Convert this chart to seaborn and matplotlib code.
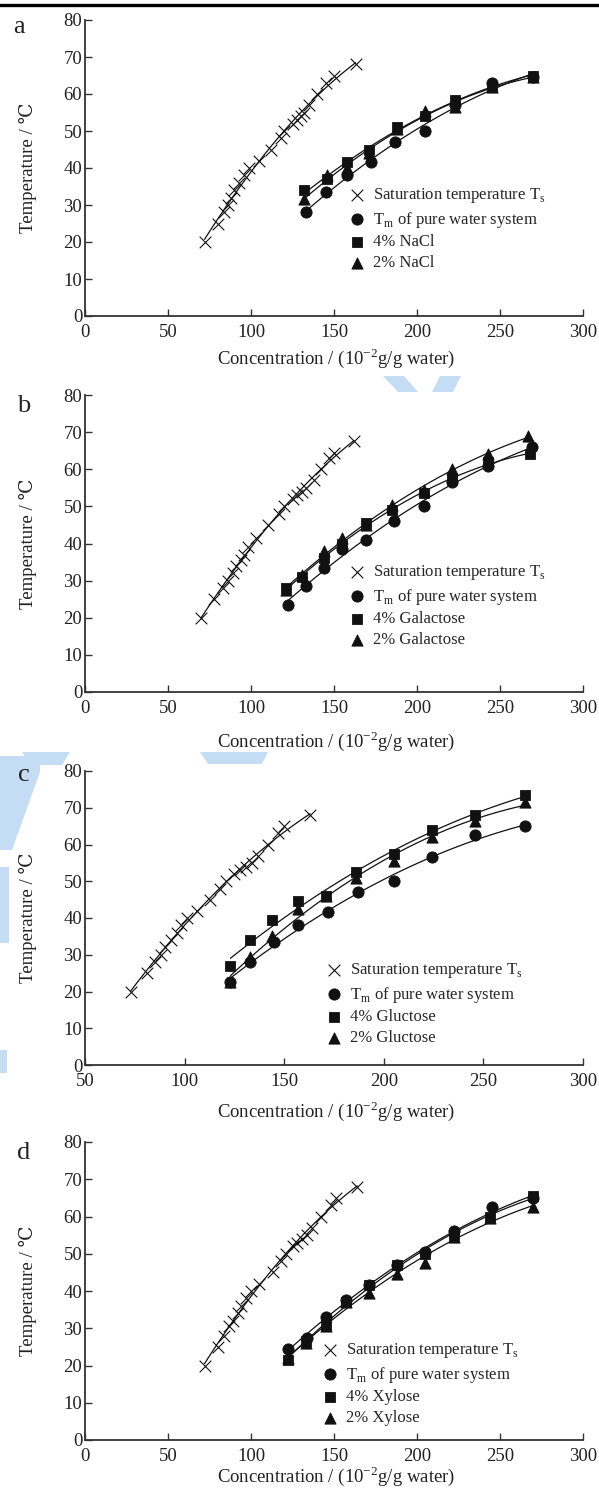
import numpy as np
import pandas as pd
import matplotlib
matplotlib.use('Agg')
import matplotlib.pyplot as plt
import seaborn as sns
from matplotlib.lines import Line2D
from matplotlib.patches import Polygon

# -- Data ----------------------------------------------------------------------
# saturation temperature curves (x markers)
a_sat_x = [72, 80, 84, 86, 88, 90, 93, 96, 99, 105, 112, 118, 120, 125, 128, 130, 132, 135, 140, 145, 150, 163]
a_sat_y = [20, 25, 28, 30, 32, 34, 36, 38, 40, 42, 45, 48, 50, 52, 53, 54, 55, 57, 60, 63, 65, 68]
b_sat_x = [70, 78, 83, 86, 89, 91, 94, 96, 98, 103, 110, 117, 120, 125, 128, 131, 133, 138, 142, 147, 150, 162]
b_sat_y = [20, 25, 28, 30, 32, 34, 35.5, 37, 39, 41.5, 45, 48, 50, 52, 53, 54, 55, 57, 60, 63, 64.5, 67.5]
c_sat_x = [73, 81, 85, 88, 90, 93, 96, 98, 101, 106, 113, 118, 121, 125, 128, 131, 134, 137, 142, 147, 150, 163]
c_sat_y = [20, 25, 28, 30, 32, 34, 36, 38, 40, 42, 45, 48, 50, 52, 53, 54, 55, 57, 60, 63, 65, 68]
d_sat_x = [72, 80, 84, 87, 89, 92, 94, 97, 100, 105, 113, 118, 121, 125, 128, 131, 134, 137, 142, 148, 151, 164]
d_sat_y = [20, 25, 28, 30.5, 32, 34, 36, 38, 40, 42, 45, 48, 50, 52, 53, 54, 55, 57, 60, 63, 65, 68]

# panel a: NaCl
a_pure_x = [133, 145, 158, 172, 187, 205, 223, 245, 270]
a_pure_y = [28, 33.5, 38, 41.5, 47, 50, 57, 63, 64.5]
a_hi_x = [132, 146, 158, 171, 188, 205, 223, 245, 270]
a_hi_y = [34, 37, 41.5, 45, 51, 54, 58.5, 62, 65]
a_lo_x = [132, 146, 158, 171, 188, 205, 223, 245, 270]
a_lo_y = [31.5, 38, 40, 44, 50.5, 55.5, 56.5, 62, 64.5]

# panel b: Galactose
b_pure_x = [122, 133, 144, 155, 169, 186, 204, 221, 243, 269]
b_pure_y = [23.5, 28.5, 33.5, 38.5, 41, 46, 50, 56.5, 61, 66]
b_hi_x = [121, 131, 144, 155, 169, 185, 204, 221, 243, 268]
b_hi_y = [28, 31, 36, 40, 45.5, 49, 53.5, 57.5, 62, 64]
b_lo_x = [121, 131, 144, 155, 169, 185, 204, 221, 243, 267]
b_lo_y = [27.5, 31.5, 38, 41.5, 45, 50.5, 54.5, 60, 64, 69]

# panel c: Glucose
c_pure_x = [123, 133, 145, 157, 172, 187, 205, 224, 246, 271]
c_pure_y = [22.5, 28, 33.5, 38, 41.5, 47, 50, 56.5, 62.5, 65]
c_hi_x = [123, 133, 144, 157, 171, 186, 205, 224, 246, 271]
c_hi_y = [27, 34, 39.5, 44.5, 46, 52.5, 57.5, 64, 68, 73.5]
c_lo_x = [123, 133, 144, 157, 171, 186, 205, 224, 246, 271]
c_lo_y = [22.5, 29.5, 35, 42.5, 46, 51, 55.5, 62, 66.5, 71.5]

# panel d: Xylose
d_pure_x = [122, 134, 145, 157, 171, 188, 205, 222, 245, 270]
d_pure_y = [24.5, 27.5, 33, 37.5, 41.5, 47, 50.5, 56, 62.5, 65]
d_hi_x = [122, 133, 145, 157, 171, 188, 205, 222, 244, 270]
d_hi_y = [21.5, 26.5, 31, 37, 41.5, 47, 50, 55, 60, 65.5]
d_lo_x = [122, 133, 145, 157, 171, 188, 205, 222, 244, 270]
d_lo_y = [22, 26, 30.5, 37, 39.5, 44.5, 47.5, 54.5, 59.5, 62.5]

letters = ['a', 'b', 'c', 'd']
solutes = ['NaCl', 'Galactose', 'Gluctose', 'Xylose']
x_ranges = [(0, 300), (0, 300), (50, 300), (0, 300)]
y_ticks = [0, 10, 20, 30, 40, 50, 60, 70, 80]

SERIF = ['Liberation Serif', 'DejaVu Serif']
INK = '#111111'

sns.set_style('ticks')
plt.rcParams['font.family'] = SERIF
plt.rcParams['mathtext.fontset'] = 'custom'
plt.rcParams['mathtext.rm'] = 'Liberation Serif'

fig = plt.figure(figsize=(5.99, 14.92), dpi=100)
W, H = 599.0, 1492.0

# layout in pixels: axes (top of y=80, bottom of y=0), legend corner, letter, xlabel centre
panel_px = [(20, 316), (395, 692), (771, 1065), (1142, 1440)]
legend_px = [(350, 186), (350, 563), (327, 961), (323, 1341)]
letter_px = [(19, 27), (24, 406), (24, 775), (24, 1153)]
xlabel_y = [358, 741, 1111, 1476]

panels = [
    (a_sat_x, a_sat_y, a_pure_x, a_pure_y, a_hi_x, a_hi_y, a_lo_x, a_lo_y),
    (b_sat_x, b_sat_y, b_pure_x, b_pure_y, b_hi_x, b_hi_y, b_lo_x, b_lo_y),
    (c_sat_x, c_sat_y, c_pure_x, c_pure_y, c_hi_x, c_hi_y, c_lo_x, c_lo_y),
    (d_sat_x, d_sat_y, d_pure_x, d_pure_y, d_hi_x, d_hi_y, d_lo_x, d_lo_y),
]

# light blue watermark fragments (drawn first, behind everything)
blue = '#c4ddf5'
shapes = [
    [(383, 376), (404, 376), (418, 392), (398, 392)],
    [(440, 376), (461, 376), (453, 392), (432, 392)],
    [(22, 752), (70, 752), (62, 765), (30, 765)],
    [(200, 752), (268, 752), (262, 764), (208, 764)],
    [(0, 756), (40, 756), (40, 772), (12, 850), (0, 850)],
    [(0, 867), (9, 867), (9, 943), (0, 943)],
    [(0, 1050), (7, 1050), (7, 1073), (0, 1073)],
]
for pts in shapes:
    fig.add_artist(Polygon([(x / W, 1 - y / H) for x, y in pts], closed=True,
                           transform=fig.transFigure, color=blue, lw=0, zorder=-1))

for i, data in enumerate(panels):
    top, bot = panel_px[i]
    left, right = 85, 583
    ax = fig.add_axes([left / W, 1 - bot / H, (right - left) / W, (bot - top) / H])
    ax.patch.set_alpha(0)
    sx, sy, px, py, hx, hy, lx, ly = data

    line_kws = dict(color=INK, lw=0.9)
    for xs, ys in [(sx, sy), (px, py), (hx, hy), (lx, ly)]:
        df = pd.DataFrame({'x': xs, 'y': ys})
        sns.regplot(data=df, x='x', y='y', order=2, ci=None, scatter=False,
                    line_kws=line_kws, ax=ax)

    sns.scatterplot(x=sx, y=sy, marker='x', s=70, color=INK, linewidth=0.8,
                    label='Saturation temperature T$_\\mathregular{s}$', ax=ax, zorder=3)
    sns.scatterplot(x=px, y=py, marker='o', s=65, color=INK, edgecolor=INK,
                    label='T$_\\mathregular{m}$ of pure water system', ax=ax, zorder=3)
    sns.scatterplot(x=hx, y=hy, marker='s', s=55, color=INK, edgecolor=INK,
                    label='4% ' + solutes[i], ax=ax, zorder=3)
    sns.scatterplot(x=lx, y=ly, marker='^', s=65, color=INK, edgecolor=INK,
                    label='2% ' + solutes[i], ax=ax, zorder=3)

    ax.set_xlim(*x_ranges[i])
    ax.set_ylim(0, 80)
    ax.set_xticks(np.arange(x_ranges[i][0], 301, 50))
    ax.set_yticks(y_ticks)
    sns.despine(ax=ax)
    for sp in ['left', 'bottom']:
        ax.spines[sp].set_color('#333333')
        ax.spines[sp].set_linewidth(1.3)
    ax.tick_params(direction='in', length=5, width=1, color='#333333',
                   labelsize=13.5, labelcolor='#222222')
    ax.tick_params(axis='y', pad=2)
    ax.tick_params(axis='x', pad=6)

    ax.set_xlabel('Concentration / (10$^{-2}$g/g water)', fontsize=13.5,
                  color='#222222', va='center')
    ax.set_ylabel('Temperature / \u2103', fontsize=13.5, color='#222222')
    ax.xaxis.set_label_coords(0.505, -(xlabel_y[i] - bot) / (bot - top))
    ax.yaxis.set_label_coords((37 - left) / (right - left), 0.5)

    lx0, ly0 = legend_px[i]
    ax.legend(loc='upper left',
              bbox_to_anchor=((lx0 - left) / (right - left), (bot - ly0) / (bot - top)),
              frameon=False, handlelength=0.8, handletextpad=0.6,
              labelspacing=0.28, borderpad=0, borderaxespad=0,
              prop={'family': SERIF, 'size': 12})

    fig.text(letter_px[i][0] / W, 1 - letter_px[i][1] / H, letters[i],
             fontsize=19, ha='center', va='center', color='#222222')

# thick rule across the top
fig.add_artist(Line2D([0, 1], [1 - 5 / H, 1 - 5 / H], color='black', lw=2.4))

fig.savefig('out.png', dpi=100)
